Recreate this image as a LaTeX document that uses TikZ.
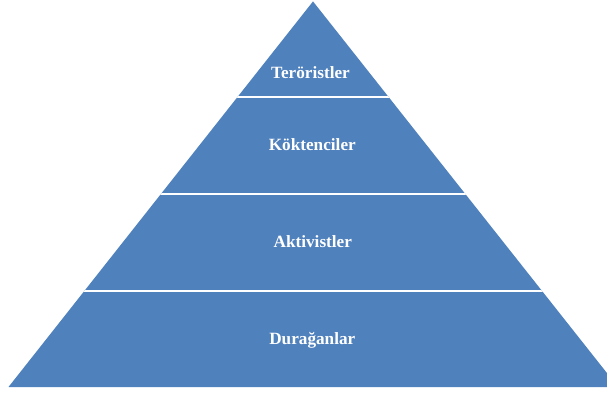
\documentclass[tikz,border=0pt]{standalone}
\usepackage{fontspec}
\setmainfont{Liberation Serif}
\definecolor{pyrblue}{HTML}{4F81BD}
\begin{document}
\begin{tikzpicture}[x=1pt,y=-1pt,
  lbl/.style={text=white,font=\bfseries\fontsize{17.2}{19}\selectfont,inner sep=0pt,anchor=base},
  sep/.style={draw=white,line width=2pt}]
\useasboundingbox (0,0) rectangle (607,394);
\coordinate (apex) at (313,1.4);
\coordinate (bl) at (8.5,387);
\coordinate (br) at (618,387);
\begin{scope}
  \clip (0,0) rectangle (607,394);
  \fill[pyrblue] (apex) -- (br) -- (bl) -- cycle;
  \clip (apex) -- (br) -- (bl) -- cycle;
  \coordinate (l1a) at (0,97); \coordinate (l1b) at (620,97);
  \coordinate (l2a) at (0,193.5); \coordinate (l2b) at (620,193.5);
  \coordinate (l3a) at (0,290.5); \coordinate (l3b) at (620,290.5);
  \draw[sep] (l1a) -- (l1b);
  \draw[sep] (l2a) -- (l2b);
  \draw[sep] (l3a) -- (l3b);
\end{scope}
\node[lbl] (t1) at (310.5,78.7) {Teröristler};
\node[lbl] (t2) at (312.3,150.7) {Köktenciler};
\node[lbl] (t3) at (312.8,247.3) {Aktivistler};
\node[lbl] (t4) at (312.3,344.3) {Durağanlar};
\end{tikzpicture}
\end{document}
